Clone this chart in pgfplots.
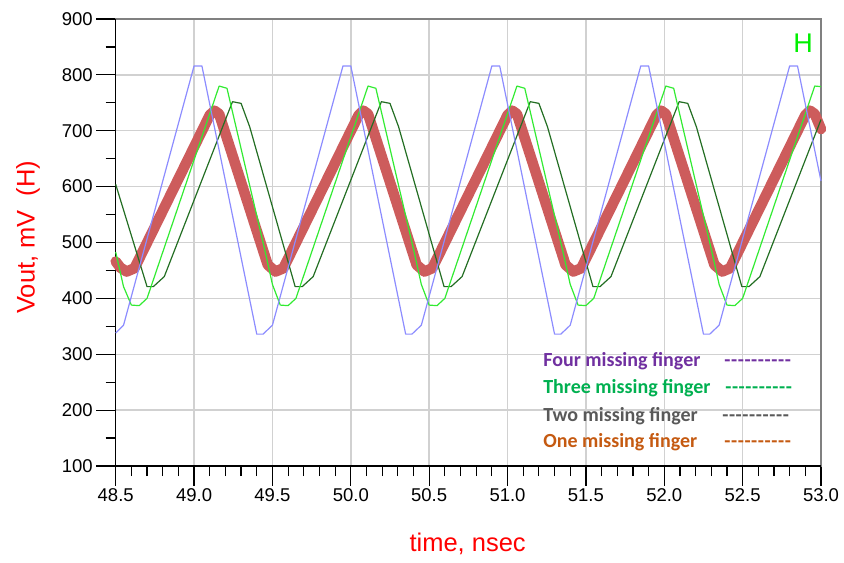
\documentclass[border=0pt]{standalone}
\usepackage{fontspec}
\setmainfont{Liberation Sans}
\newfontfamily\legfont{Carlito}
\usepackage{pgfplots}
\pgfplotsset{compat=1.18}
\definecolor{cpurple}{HTML}{7030A0}
\definecolor{cgreen}{HTML}{00B050}
\definecolor{cgray}{HTML}{595959}
\definecolor{corange}{HTML}{C55A11}
\definecolor{lblue}{RGB}{140,140,255}
\definecolor{lgreen}{RGB}{50,235,50}
\definecolor{dgreen}{RGB}{35,110,35}
\definecolor{cred}{RGB}{205,92,92}
\definecolor{hgreen}{RGB}{0,240,0}
\newcommand\dashes{-\kern0.6pt-\kern0.6pt-\kern0.6pt-\kern0.6pt-\kern0.6pt-\kern0.6pt-\kern0.6pt-\kern0.6pt-\kern0.6pt-}
\begin{document}
\begin{tikzpicture}
\begin{axis}[
  scale only axis, width=705.3pt, height=447pt,
  xmin=48.5, xmax=53.0, ymin=100, ymax=900,
  xtick={48.5,49,49.5,50,50.5,51,51.5,52,52.5,53},
  ytick={100,200,300,400,500,600,700,800,900},
  minor x tick num=4, minor y tick num=1,
  grid=major,
  major grid style={line width=1.4pt, color=black!18},
  tick align=outside, tick pos=left,
  major tick length=19.5pt, minor tick length=10pt,
  every tick/.style={black, line width=1.2pt},
  axis line style={black!50, line width=1.6pt},
  /pgf/number format/assume math mode=true,
  tick label style={font=\fontsize{18.5}{20}\selectfont},
  xticklabel style={/pgf/number format/.cd, fixed, fixed zerofill, precision=1},
  yticklabel style={/pgf/number format/.cd, fixed, precision=0},
  xlabel={time, nsec},
  ylabel={Vout, mV\ \ (H)},
  label style={font=\fontsize{25.5}{28}\selectfont, text=red},
  xlabel style={at={(axis description cs:0.499,-0.1902)}, anchor=base},
  ylabel style={at={(axis description cs:-0.1149,0.512)}, anchor=base},
  clip=false,
]
\draw[black, line width=1.3pt] (rel axis cs:0,1) -- (rel axis cs:0,0) -- (rel axis cs:1,0);
% One missing finger (thick red)
\addplot[cred, line width=10.5pt, line join=round, line cap=round] coordinates {
(48.50,466) (48.53,455) (48.57,448) (48.62,454) (49.10,728) (49.13,736) (49.16,730)
(49.47,460) (49.52,448) (49.57,454) (50.05,728) (50.08,736) (50.11,730)
(50.42,460) (50.47,448) (50.52,454) (51.00,728) (51.03,736) (51.06,730)
(51.37,460) (51.42,448) (51.47,454) (51.95,728) (51.98,736) (52.01,730)
(52.32,460) (52.37,448) (52.42,454) (52.90,728) (52.93,736) (52.96,730) (53.00,703)
};
% Two missing finger (dark green)
\addplot[dgreen, line width=1.2pt, line join=round] coordinates {
(48.50,604) (48.70,421) (48.74,421) (48.81,439) (49.245,752) (49.30,749) (49.355,707)
(49.645,421) (49.69,421) (49.76,439) (50.195,752) (50.25,749) (50.305,707)
(50.595,421) (50.64,421) (50.71,439) (51.145,752) (51.20,749) (51.255,707)
(51.545,421) (51.59,421) (51.66,439) (52.095,752) (52.15,749) (52.205,707)
(52.495,421) (52.54,421) (52.61,439) (53.00,720)
};
% Three missing finger (light green)
\addplot[lgreen, line width=1.2pt, line join=round] coordinates {
(48.50,483) (48.55,421) (48.60,388) (48.65,387) (48.70,400) (49.16,780) (49.21,776)
(49.45,488) (49.50,425) (49.55,388) (49.60,387) (49.65,400) (50.11,780) (50.16,776)
(50.40,488) (50.45,425) (50.50,388) (50.55,387) (50.60,400) (51.06,780) (51.11,776)
(51.35,488) (51.40,425) (51.45,388) (51.50,387) (51.55,400) (52.01,780) (52.06,776)
(52.30,488) (52.35,425) (52.40,388) (52.45,387) (52.50,400) (52.96,780) (53.00,779)
};
% Four missing finger (blue)
\addplot[lblue, line width=1.2pt, line join=round] coordinates {
(48.50,338) (48.55,352) (49.00,816) (49.05,816) (49.40,336) (49.44,336) (49.50,352)
(49.95,816) (50.00,816) (50.35,336) (50.39,336) (50.45,352)
(50.90,816) (50.95,816) (51.30,336) (51.34,336) (51.40,352)
(51.85,816) (51.90,816) (52.25,336) (52.29,336) (52.35,352)
(52.80,816) (52.85,816) (53.00,610)
};
\node[text=hgreen, font=\fontsize{27}{30}\selectfont] at (axis cs:52.886,857) {H};
\begin{scope}[every node/.style={font=\legfont\bfseries\fontsize{20}{22}\selectfont, inner sep=0pt, anchor=base west}]
\node[text=cpurple] at (axis cs:51.227,277.7) {Four missing finger};
\node[text=cgreen]  at (axis cs:51.227,230.1) {Three missing finger};
\node[text=cgray]   at (axis cs:51.227,180.5) {Two missing finger};
\node[text=corange] at (axis cs:51.227,132.7) {One missing finger};
\node[text=cpurple] at (axis cs:52.382,277.7) {\dashes};
\node[text=cgreen]  at (axis cs:52.388,230.1) {\dashes};
\node[text=cgray]   at (axis cs:52.369,180.5) {\dashes};
\node[text=corange] at (axis cs:52.382,132.7) {\dashes};
\end{scope}
\end{axis}
\pgfresetboundingbox
\path ([shift={(-115.7pt,-96pt)}]current axis.south west) rectangle ([shift={(23pt,19pt)}]current axis.north east);
\end{tikzpicture}
\end{document}
